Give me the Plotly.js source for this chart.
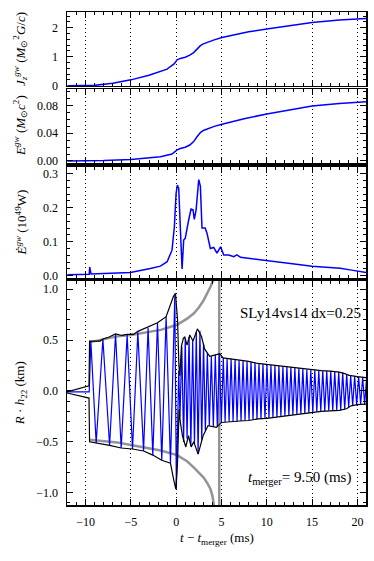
<!DOCTYPE html>
<html>
<head>
<meta charset="utf-8">
<script src="https://cdn.plot.ly/plotly-3.0.1.min.js"></script>
<style>
  body { margin: 0; background: #fff; }
  #plot { width: 374px; height: 561px; }
</style>
</head>
<body>
<div id="plot"></div>
<script>
// angular momentum J_z (panel 1)
const tJ = [-12, -10, -9, -7, -5, -3, -1.74, -1, -0.64, -0.2, 0.1, 0.46, 1.0, 1.5, 1.93, 2.3, 2.67, 3.0, 3.4, 4.2, 5.06, 6.5, 8, 10, 12.5, 15, 18, 21];
const Jz = [0, 0, 0.01, 0.08, 0.2, 0.36, 0.48, 0.57, 0.66, 0.76, 0.89, 0.94, 0.98, 1.05, 1.14, 1.26, 1.38, 1.44, 1.49, 1.58, 1.66, 1.77, 1.86, 1.95, 2.07, 2.18, 2.26, 2.32];

// radiated energy (panel 2)
const tE = [-12, -8, -5, -3, -1.74, -0.46, 0.1, 0.46, 1.0, 1.5, 1.93, 2.3, 2.67, 3.0, 3.4, 4.2, 5.06, 7.5, 10, 12.5, 15, 18, 21];
const Egw = [0, 0.0005, 0.002, 0.004, 0.006, 0.010, 0.016, 0.018, 0.0198, 0.023, 0.028, 0.035, 0.041, 0.044, 0.046, 0.050, 0.053, 0.061, 0.068, 0.074, 0.0795, 0.083, 0.0858];

// luminosity (panel 3)
const tL = [-12, -9.6, -9.54, -9.4, -7.26, -5.05, -2.85, -1.74, -1.0, -0.46, -0.2, -0.01, 0.13, 0.28, 0.46, 0.65, 0.83, 1.0, 1.38, 1.64, 1.86, 2.0, 2.2, 2.49, 2.67, 2.85, 3.2, 3.4, 3.77, 4.14, 4.5, 4.9, 5.25, 5.8, 6.35, 6.7, 7.1, 8.2, 10, 12.6, 15, 18.1, 19.2, 20.1, 21];
const Lgw = [0.003, 0.004, 0.025, 0.005, 0.007, 0.009, 0.021, 0.028, 0.041, 0.075, 0.144, 0.242, 0.267, 0.257, 0.14, 0.02, 0.105, 0.11, 0.164, 0.196, 0.194, 0.166, 0.194, 0.283, 0.264, 0.14, 0.14, 0.125, 0.08, 0.083, 0.066, 0.085, 0.061, 0.061, 0.056, 0.061, 0.054, 0.05, 0.044, 0.036, 0.028, 0.022, 0.017, 0.012, 0.009];

// strain R*h22, extrema of the wave (panel 4)
const preT = [-12.05, -9.6, -9.42, -8.83, -8.09, -7.35, -6.69, -6.07, -5.41, -4.82, -4.23, -3.6, -3.1, -2.58, -2.06, -1.59, -1.11, -0.63, -0.15, 0.02];
const preV = [-0.01, -0.01, 0.49, -0.51, 0.51, -0.535, 0.56, -0.56, 0.55, -0.57, 0.575, -0.59, 0.62, -0.63, 0.67, -0.68, 0.73, -0.71, 0.94, -0.96];
const postT = [0.28, 0.42, 0.62, 0.82, 1.0, 1.2, 1.42, 1.62, 1.82, 2.02, 2.22, 2.42, 2.62, 2.82, 3.02, 3.22, 3.44, 3.66, 3.88, 4.10, 4.32, 4.54, 4.76, 4.98, 5.20,
  5.40, 5.62, 5.84, 6.06, 6.28, 6.50, 6.72, 6.94, 7.16, 7.38, 7.60, 7.82, 8.04, 8.26, 8.48, 8.70, 8.92, 9.14, 9.36, 9.58, 9.80,
  10.02, 10.24, 10.46, 10.68, 10.90, 11.12, 11.34, 11.56, 11.78, 12.00, 12.22, 12.44, 12.66, 12.88, 13.10, 13.32, 13.54, 13.76, 13.98,
  14.20, 14.42, 14.64, 14.86, 15.08, 15.30, 15.52, 15.74, 15.96, 16.18, 16.40, 16.62, 16.84, 17.06, 17.28, 17.50, 17.72, 17.94,
  18.16, 18.38, 18.60, 18.82, 19.04, 19.26, 19.48, 19.70, 19.92, 20.14, 20.36, 20.58, 20.80, 21.02];
const postV = [0.2, -0.25, 0.44, -0.5, 0.52, -0.47, 0.53, -0.54, 0.49, -0.52, 0.58, -0.62, 0.59, -0.48, 0.46, -0.39, 0.37, -0.34, 0.34, -0.35, 0.355, -0.355, 0.365, -0.31, 0.325,
  -0.305, 0.32, -0.30, 0.315, -0.30, 0.31, -0.30, 0.30, -0.295, 0.30, -0.29, 0.295, -0.29, 0.29, -0.285, 0.28, -0.28, 0.27, -0.275, 0.265, -0.27,
  0.26, -0.265, 0.255, -0.26, 0.25, -0.255, 0.245, -0.25, 0.24, -0.245, 0.24, -0.24, 0.235, -0.235, 0.23, -0.23, 0.225, -0.225, 0.215,
  -0.22, 0.21, -0.215, 0.205, -0.21, 0.205, -0.205, 0.20, -0.20, 0.20, -0.20, 0.195, -0.195, 0.195, -0.195, 0.19, -0.19, 0.185,
  -0.19, 0.18, -0.18, 0.165, -0.16, 0.15, -0.145, 0.145, -0.14, 0.14, -0.135, 0.135, -0.13, 0.13];

// amplitude envelope (black)
const envUpT = [-12.05, -9.62, -9.56, -8.4, -8.09, -7.4, -6.69, -6.0, -5.41, -4.7, -4.23, -3.1, -2.06, -1.11, -0.67, -0.3, -0.08, 0.15, 0.3, 0.4, 0.58, 0.8, 0.95, 1.2, 1.5, 1.86, 2.35, 2.79, 3.15, 3.7, 4.44, 4.81, 5.17, 6, 7, 8, 9, 10, 12, 14, 15, 16, 17, 18, 18.6, 19.1, 20, 20.95];
const envUp = [-0.01, 0.05, 0.49, 0.49, 0.51, 0.53, 0.56, 0.545, 0.555, 0.555, 0.585, 0.63, 0.67, 0.73, 0.83, 0.93, 0.958, 0.7, 0.25, 0.15, 0.44, 0.52, 0.53, 0.45, 0.55, 0.49, 0.61, 0.535, 0.41, 0.34, 0.357, 0.367, 0.325, 0.315, 0.3, 0.29, 0.27, 0.26, 0.24, 0.215, 0.205, 0.2, 0.195, 0.185, 0.17, 0.153, 0.14, 0.13];
const envLoT = [-12.05, -9.62, -9.56, -8.83, -7.35, -6.07, -4.82, -3.6, -2.58, -1.59, -0.63, -0.3, -0.04, 0.15, 0.32, 0.45, 0.69, 1.06, 1.36, 1.65, 1.94, 2.42, 2.97, 3.52, 4.44, 4.99, 6, 7, 8, 9, 10, 12, 14, 15, 16, 17, 18, 18.8, 19.3, 20, 20.95];
const envLo = [-0.02, -0.07, -0.5, -0.51, -0.535, -0.56, -0.57, -0.59, -0.63, -0.68, -0.71, -0.86, -0.965, -0.7, -0.18, -0.3, -0.44, -0.55, -0.44, -0.55, -0.5, -0.62, -0.44, -0.34, -0.357, -0.31, -0.3, -0.295, -0.29, -0.275, -0.27, -0.245, -0.22, -0.21, -0.2, -0.195, -0.19, -0.175, -0.146, -0.135, -0.13];

// point-particle amplitude (gray)
const grayT = [-9.6, -8, -6.5, -5, -3, -1.7, 0.1, 1.2, 1.93, 2.5, 3.03, 3.4, 3.77, 4.0, 4.14, 4.3];
const grayUp = [0.477, 0.51, 0.536, 0.55, 0.58, 0.6, 0.65, 0.71, 0.76, 0.82, 0.89, 0.95, 1.02, 1.07, 1.1, 1.2];
const grayLo = [-0.48, -0.49, -0.505, -0.53, -0.56, -0.585, -0.63, -0.69, -0.75, -0.8, -0.85, -0.9, -0.96, -1.03, -1.1, -1.2];
const tContact = 4.75;

const xTicks = [-10, -5, 0, 5, 10, 15, 20];
const xTickText = ['−10', '−5', '0', '5', '10', '15', '20'];

const FONT = 'Liberation Serif, Times New Roman, serif';
const blue = '#0000ff';
const grey = 'rgba(128,128,128,0.85)';

const data = [
  { x: tJ, y: Jz, xaxis: 'x', yaxis: 'y', mode: 'lines', line: { color: blue, width: 1.5 } },
  { x: tE, y: Egw, xaxis: 'x2', yaxis: 'y2', mode: 'lines', line: { color: blue, width: 1.5 } },
  { x: tL, y: Lgw, xaxis: 'x3', yaxis: 'y3', mode: 'lines', line: { color: blue, width: 1.5 } },
  { x: grayT, y: grayUp, xaxis: 'x4', yaxis: 'y4', mode: 'lines', line: { color: grey, width: 2.5 } },
  { x: grayT, y: grayLo, xaxis: 'x4', yaxis: 'y4', mode: 'lines', line: { color: grey, width: 2.5 } },
  { x: preT.concat(postT), y: preV.concat(postV), xaxis: 'x4', yaxis: 'y4', mode: 'lines', line: { color: blue, width: 1.2 } },
  { x: envUpT, y: envUp, xaxis: 'x4', yaxis: 'y4', mode: 'lines', line: { color: '#000', width: 1.2 } },
  { x: envLoT, y: envLo, xaxis: 'x4', yaxis: 'y4', mode: 'lines', line: { color: '#000', width: 1.2 } }
];

function xax(anchor, labels) {
  return {
    anchor: anchor, range: [-12.05, 20.95],
    tickvals: xTicks, ticktext: xTickText, showticklabels: labels,
    ticks: 'inside', ticklen: 6, tickwidth: 1, tickcolor: '#000',
    minor: { ticks: 'inside', dtick: 1, tick0: 0, ticklen: 3, tickcolor: '#000' },
    showline: true, linecolor: '#000', linewidth: 1.5, mirror: 'allticks',
    showgrid: true, gridcolor: '#000', gridwidth: 1, griddash: '1px,3px',
    zeroline: false, ticklabelstandoff: 5,
    tickfont: { family: FONT, size: 12, color: '#000' }
  };
}

function yax(domain, range, dtick, minor, fmt, anchor) {
  return {
    anchor: anchor, domain: domain, range: range,
    dtick: dtick, tick0: 0, tickformat: fmt,
    ticks: 'inside', ticklen: 6, tickwidth: 1, tickcolor: '#000',
    minor: { ticks: 'inside', dtick: minor, tick0: 0, ticklen: 3, tickcolor: '#000' },
    showline: true, linecolor: '#000', linewidth: 1.5, mirror: 'allticks',
    showgrid: false, zeroline: false, ticklabelstandoff: 5,
    tickfont: { family: FONT, size: 12, color: '#000' }
  };
}

function ytitle(text, y) {
  return { xref: 'paper', yref: 'paper', x: -0.157, y: y, xanchor: 'center', yanchor: 'middle',
    text: text, textangle: -90, showarrow: false, font: { family: FONT, size: 13, color: '#000' } };
}

const layout = {
  width: 374, height: 561,
  margin: { l: 67, r: 8, t: 12, b: 56 },
  paper_bgcolor: '#fff', plot_bgcolor: '#fff',
  showlegend: false,
  font: { family: FONT, color: '#000' },
  xaxis: xax('y', false),
  xaxis2: xax('y2', false),
  xaxis3: xax('y3', false),
  xaxis4: xax('y4', true),
  yaxis: yax([0.850, 1.0], [-0.01, 2.54], 1, 0.2, 'd', 'x'),
  yaxis2: yax([0.6937, 0.8438], [-0.003, 0.104], 0.04, 0.01, '.2f', 'x2'),
  yaxis3: yax([0.4604, 0.6856], [-0.007, 0.32], 0.1, 0.02, '.1f', 'x3'),
  yaxis4: yax([0, 0.4544], [-1.12, 1.08], 0.5, 0.1, '.1f', 'x4'),
  shapes: [
    { type: 'line', xref: 'x4', yref: 'y4 domain', x0: tContact, x1: tContact, y0: 0, y1: 1,
      line: { color: grey, width: 2.5 }, layer: 'below' }
  ],
  annotations: [
    ytitle('<i>J</i><sub><i>z</i></sub><sup><i>gw</i></sup> (<i>M</i><sub>⊙</sub><sup>2</sup><i>G</i>/<i>c</i>)', 0.925),
    ytitle('<i>E</i><sup><i>gw</i></sup> (<i>M</i><sub>⊙</sub><i>c</i><sup>2</sup>)', 0.769),
    ytitle('<i>Ė</i><sup><i>gw</i></sup> (10<sup>49</sup>W)', 0.573),
    ytitle('<i>R</i> · <i>h</i><sub>22</sub> (km)', 0.227),
    { xref: 'paper', yref: 'paper', x: 0.5, y: -0.067, xanchor: 'center', yanchor: 'middle',
      text: '<i>t</i> − <i>t</i><sub>merger</sub> (ms)', showarrow: false,
      font: { family: FONT, size: 13, color: '#000' } },
    { xref: 'paper', yref: 'paper', x: 0.99, y: 0.389, xanchor: 'right', yanchor: 'middle',
      text: 'SLy14vs14 dx=0.25', showarrow: false, font: { family: FONT, size: 15, color: '#000' } },
    { xref: 'paper', yref: 'paper', x: 0.957, y: 0.055, xanchor: 'right', yanchor: 'middle',
      text: '<i>t</i><sub>merger</sub>= 9.50 (ms)', showarrow: false, font: { family: FONT, size: 15, color: '#000' } }
  ]
};

Plotly.newPlot('plot', data, layout, { displayModeBar: false, staticPlot: true });
</script>
</body>
</html>
